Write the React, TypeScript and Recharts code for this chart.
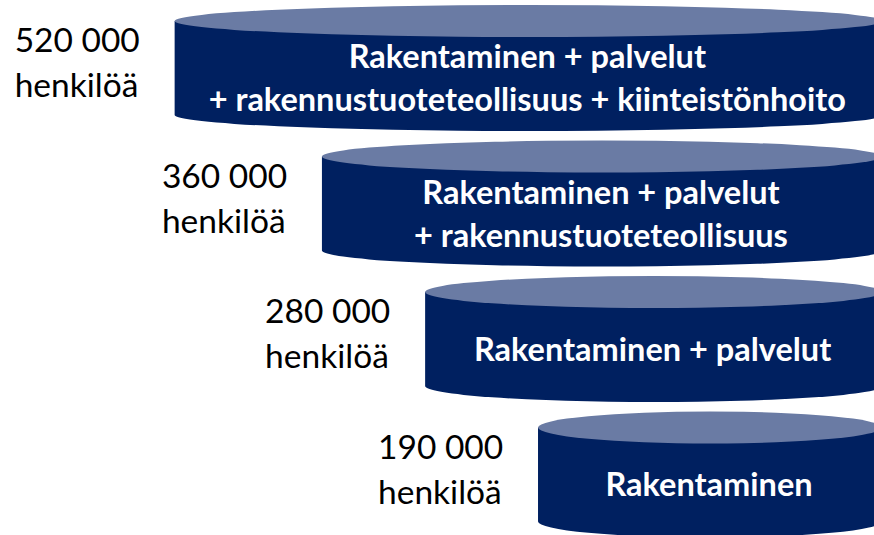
import React from "react";
import { BarChart, Bar, XAxis, YAxis, LabelList } from "recharts";

// ---- data ----
const categoryLines: string[][] = [
  ["Rakentaminen + palvelut", "+ rakennustuoteteollisuus + kiinteistönhoito"],
  ["Rakentaminen + palvelut", "+ rakennustuoteteollisuus"],
  ["Rakentaminen + palvelut"],
  ["Rakentaminen"],
];
const persons: number[] = [520000, 360000, 280000, 190000];
// drawn length of each cylinder, in % of the drawing width
const cylinderLength: number[] = [80.2, 63.5, 51.8, 39.0];
const unitLabel = "henkilöä";

const data = categoryLines.map((lines, i) => ({
  name: lines.join(" "),
  lines,
  persons: persons[i],
  length: cylinderLength[i],
}));

const BODY = "#002060";
const TOP = "#6A7BA4";
const FONT = "Lato, 'Noto Sans', sans-serif";

const fmt = (n: number) => String(n).replace(/\B(?=(\d{3})+(?!\d))/g, " ");

const norm = (p: any) => {
  const x = Number(p.x), w = Number(p.width), y = Number(p.y), h = Number(p.height);
  const left = w < 0 ? x + w : x;
  return { left, w: Math.abs(w), y, h };
};

const Cylinder = (props: any) => {
  const { left, w, y, h } = norm(props);
  const rx = w / 2;
  const ry = 16;
  const cx = left + rx;
  const topC = y + ry;
  const botC = y + h - ry;
  const d = `M${left},${topC} L${left},${botC} A${rx},${ry} 0 0 0 ${left + w},${botC} L${left + w},${topC} Z`;
  return (
    <g>
      <path d={d} fill={BODY} />
      <ellipse cx={cx} cy={topC} rx={rx} ry={ry} fill={TOP} />
    </g>
  );
};

const InnerText = (props: any) => {
  const { left, w, y, h } = norm(props);
  const item = data[props.index];
  const lines = item.lines;
  const cx = left + w / 2 - 1;
  const mid = y + h / 2 + 9;
  const lh = 43;
  const start = mid - ((lines.length - 1) * lh) / 2;
  return (
    <g>
      {lines.map((l: string, k: number) => (
        <text
          key={k}
          x={cx}
          y={start + k * lh}
          textAnchor="middle"
          dominantBaseline="central"
          fill="#FFFFFF"
          fontFamily={FONT}
          fontWeight={700}
          fontSize={32.5}
        >
          {l}
        </text>
      ))}
    </g>
  );
};

const SideText = (props: any) => {
  const { left, y, h } = norm(props);
  const item = data[props.index];
  const cy = y + h / 2;
  const x = left - 160;
  return (
    <g>
      <text x={x} y={cy - 16} fill="#000000" fontFamily={FONT} fontSize={33.5}>
        {fmt(item.persons)}
      </text>
      <text x={x} y={cy + 29} fill="#000000" fontFamily={FONT} fontSize={33.5}>
        {unitLabel}
      </text>
    </g>
  );
};

export default function App() {
  return (
    <div
      style={{
        position: "absolute",
        left: 0,
        top: 0,
        width: 874,
        height: 535,
        overflow: "hidden",
        background: "#ffffff",
      }}
    >
      <BarChart
        width={882}
        height={542}
        data={data}
        layout="vertical"
        margin={{ top: 0, right: 0, bottom: 0, left: 0 }}
      >
        <XAxis type="number" domain={[0, 100]} reversed hide />
        <YAxis type="category" dataKey="name" hide />
        <Bar dataKey="length" barSize={126} shape={<Cylinder />} isAnimationActive={false}>
          <LabelList dataKey="length" content={<InnerText />} />
          <LabelList dataKey="persons" content={<SideText />} />
        </Bar>
      </BarChart>
    </div>
  );
}
